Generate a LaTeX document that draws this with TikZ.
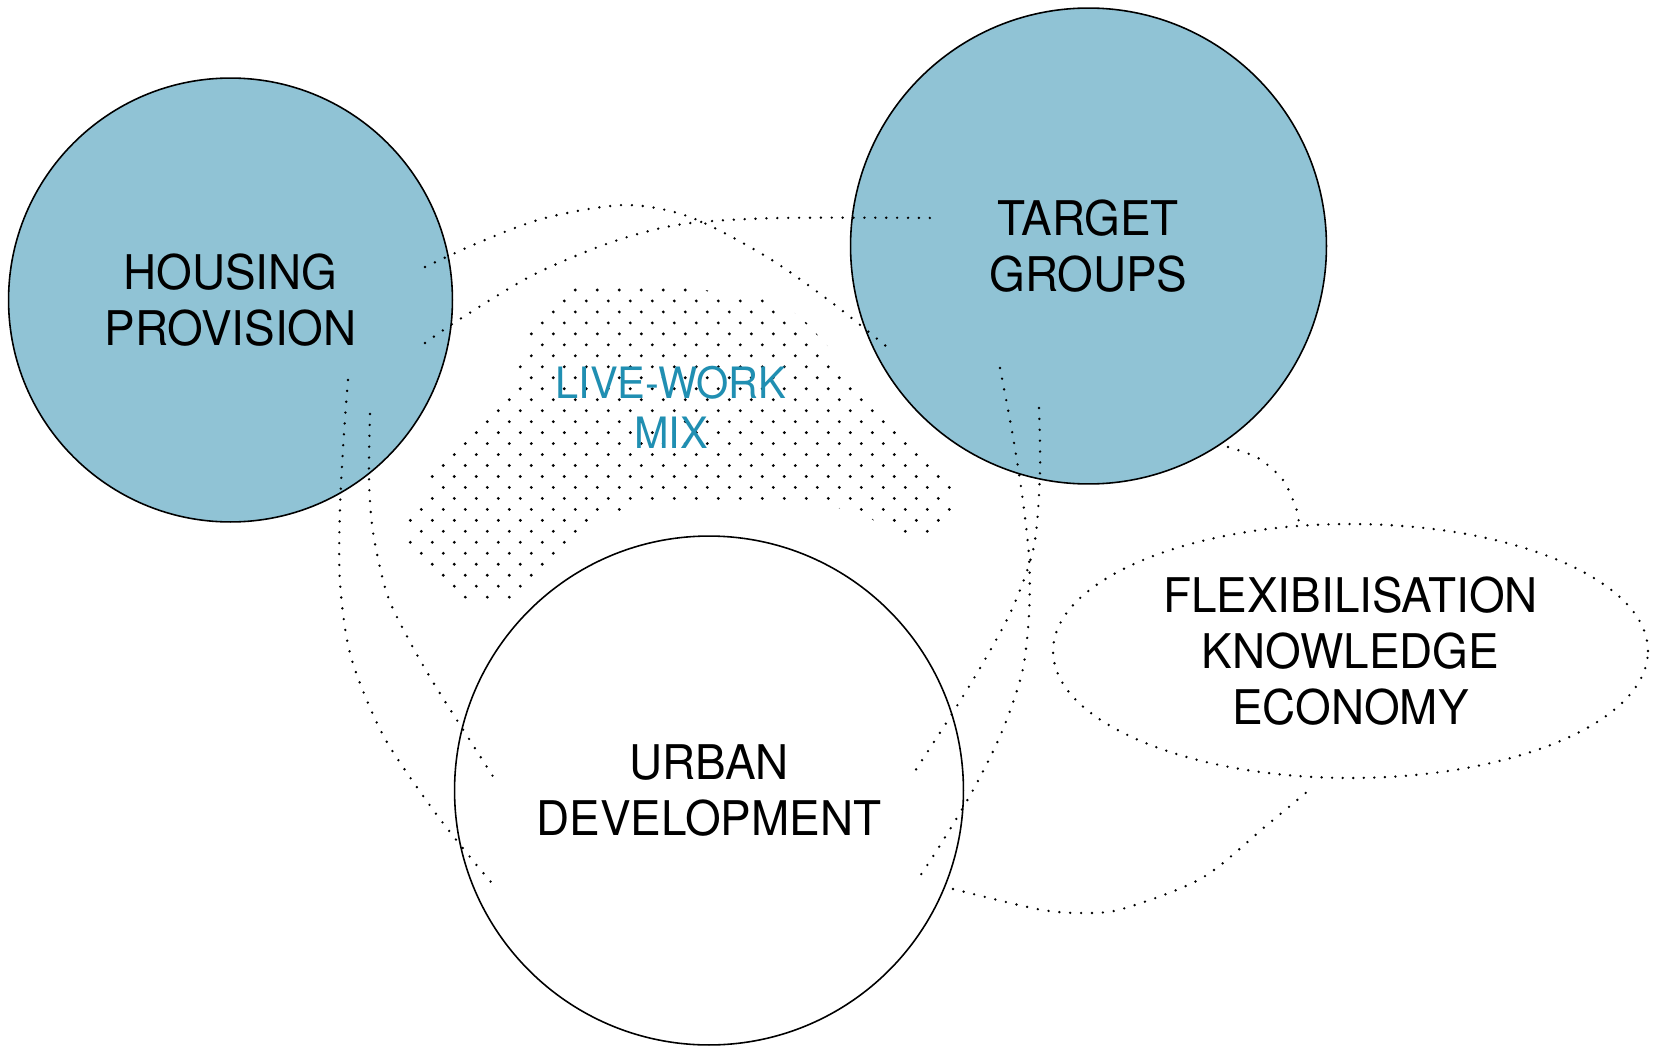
\documentclass[tikz,border=0pt]{standalone}
\usepackage{fontspec}
\setmainfont{TeX Gyre Heros}[FakeStretch=0.96]
\usepackage{tikz}
\usetikzlibrary{shapes.geometric,positioning,calc}
\definecolor{hubblue}{RGB}{144,195,213}
\definecolor{mixblue}{RGB}{32,143,178}

\begin{document}
\begin{tikzpicture}[
  x=0.02cm, y=-0.02cm,
  hub/.style={draw, circle, line width=0.9pt, inner sep=0pt, align=center,
              font=\fontsize{27.2}{31.7}\selectfont},
  field/.style={draw, ellipse, line width=1.5pt, line cap=round,
                dash pattern=on 0pt off 6pt, inner sep=0pt, align=center,
                font=\fontsize{27.2}{31.7}\selectfont},
  mixlabel/.style={text=mixblue, align=center, inner sep=0pt,
                   font=\fontsize{24.6}{28.3}\selectfont},
  link/.style={line width=1.5pt, line cap=round, dash pattern=on 0pt off 6.2pt}
]
\fill[white] (0,0) rectangle (1657,1048);
\useasboundingbox (0,0) rectangle (1657,1048);

% Main fields
\node[hub, fill=hubblue, minimum size=8.88cm]  (housing) at (230.5,300) {HOUSING\\PROVISION};
\node[hub, fill=hubblue, minimum size=9.52cm]  (target)  at (1088.5,246) {TARGET\\GROUPS};
\node[hub, fill=white, minimum size=10.18cm]   (urban)   at (709,790.5) {URBAN\\DEVELOPMENT};
\node[field, minimum width=11.9cm, minimum height=5.08cm] (flex) at (1350.5,651)
     {FLEXIBILISATION\\KNOWLEDGE\\ECONOMY};

% Live-work overlap (dot screen)
\begin{scope}
  \clip (570,285) -- (668,285) -- (778,300) -- (806,322) -- (955,488) -- (955,512)
     -- (932,538) -- (900,538) -- (870,518) -- (835,507) -- (628,507) -- (595,525)
     -- (515,602) -- (485,604) -- (450,594) -- (405,548) -- (405,520) -- (430,500)
     -- (430,470) -- (508,398) -- (518,368) -- (526,334) -- (560,298) -- cycle;
  \foreach \r in {0,...,29}{
    \foreach \c in {0,...,24}{
      \fill ({421.3+22*\c-11*mod(\r,2)},{290+10.97*\r}) circle[radius=0.9pt];
    }
  }
\end{scope}
\node[mixlabel] (mix) at (671,407) {LIVE-WORK\\MIX};

% Link ends
\coordinate (hp-n1) at (425,267);
\coordinate (hp-n2) at (425,343);
\coordinate (hp-s1) at (348,380);
\coordinate (hp-s2) at (370,414);
\coordinate (tg-w1) at (893,352);
\coordinate (tg-w2) at (940,218);
\coordinate (tg-s1) at (1000,368);
\coordinate (tg-s2) at (1039,408);
\coordinate (tg-se) at (1228,447);
\coordinate (ud-w1) at (491,882);
\coordinate (ud-w2) at (494,778);
\coordinate (ud-e1) at (916,882);
\coordinate (ud-e2) at (915,771);
\coordinate (ud-se) at (953,889);
\coordinate (fx-n)  at (1299,524);
\coordinate (fx-s)  at (1308,791);

% Links
\draw[link] plot[smooth] coordinates {(hp-n1) (480,242) (545,218) (625,205) (690,217)
  (767,257) (835,305) (tg-w1)};
\draw[link] plot[smooth] coordinates {(hp-n2) (460,319) (533,275) (612,242) (683,224)
  (780,218) (tg-w2)};
\draw[link] plot[smooth] coordinates {(hp-s1) (344,433) (340,508) (340,583) (351,657)
  (383,735) (431,807) (470,857) (ud-w1)};
\draw[link] plot[smooth] coordinates {(hp-s2) (369,478) (373,532) (387,594) (410,642)
  (436,687) (471,742) (ud-w2)};
\draw[link] plot[smooth] coordinates {(tg-s1) (1012,431) (1022,494) (1029,557) (1029,615)
  (1022,673) (1001,734) (972,792) (939,847) (ud-e1)};
\draw[link] plot[smooth] coordinates {(tg-s2) (1040,472) (1034,546) (1013,607) (983,663)
  (950,717) (ud-e2)};
\draw[link] plot[smooth] coordinates {(tg-se) (1258,458) (1283,480) (1296,508) (fx-n)};
\draw[link] plot[smooth] coordinates {(ud-se) (1037,909) (1080,913) (1122,909) (1202,878)
  (1267,825) (fx-s)};
\end{tikzpicture}
\end{document}
